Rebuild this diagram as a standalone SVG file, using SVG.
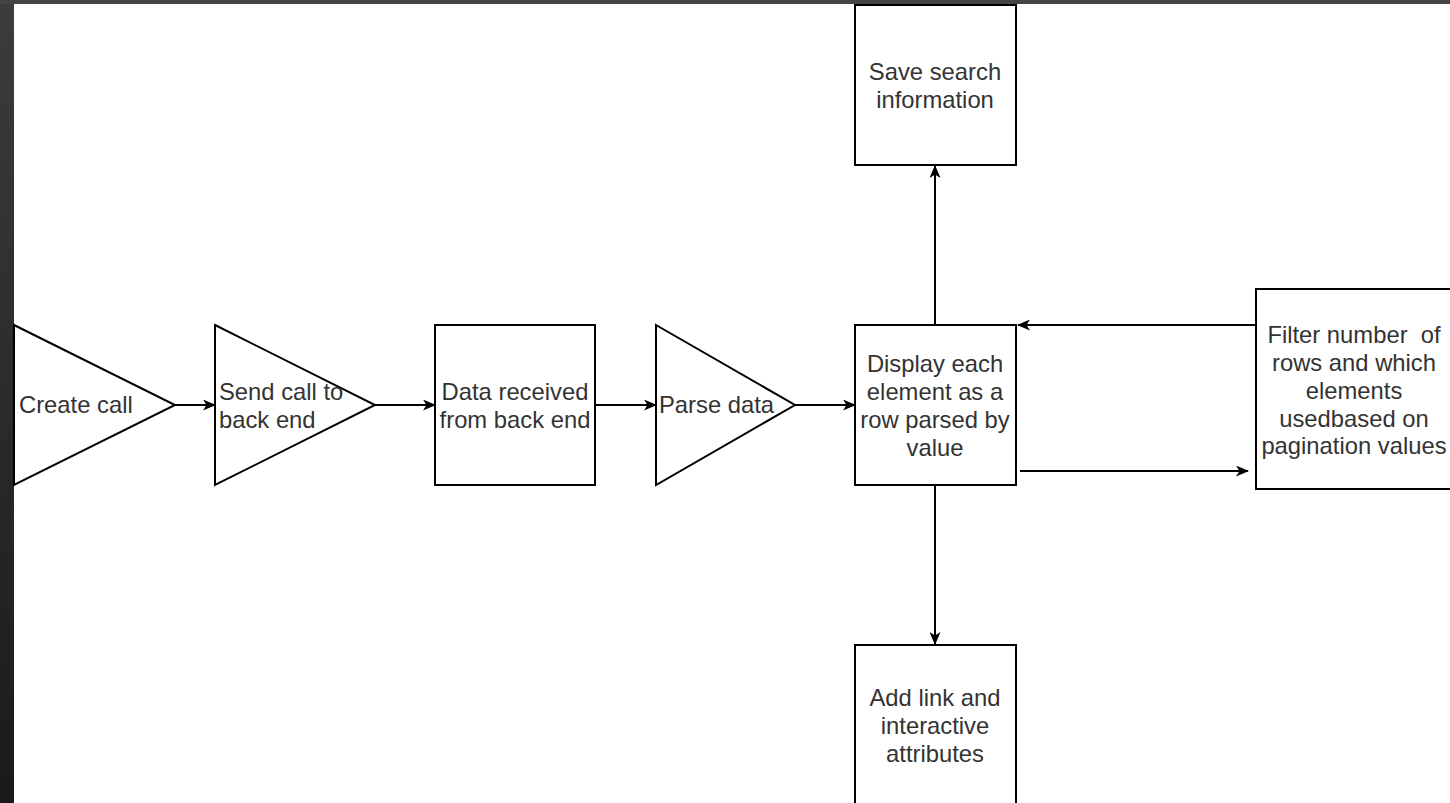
<svg xmlns="http://www.w3.org/2000/svg" width="1450" height="803" viewBox="0 0 1450 803">
<defs>
<linearGradient id="lb" x1="0" y1="0" x2="0" y2="1">
<stop offset="0" stop-color="#3c3c3c"/>
<stop offset="1" stop-color="#1a1a1a"/>
</linearGradient>
<marker id="ah" viewBox="0 0 13 11" refX="12" refY="5.5" markerWidth="13" markerHeight="11" markerUnits="userSpaceOnUse" orient="auto">
<path d="M0,0 L13,5.5 L0,11 L3.5,5.5 Z" fill="#000"/>
</marker>
<style>
.s{fill:#fff;stroke:#000;stroke-width:2}
.t{font-family:"Liberation Sans",Arial,sans-serif;font-size:23.8px;fill:#333}
.c{text-anchor:middle}
.e{fill:none;stroke:#000;stroke-width:2;marker-end:url(#ah)}
</style>
</defs>
<rect x="0" y="0" width="1450" height="803" fill="#fff"/>
<rect x="0" y="0" width="14" height="803" fill="url(#lb)"/>
<rect x="0" y="0" width="1450" height="4" fill="#444"/>
<g id="connectors">
<line class="e" x1="175" y1="405" x2="215" y2="405"/>
<line class="e" x1="375" y1="405" x2="435" y2="405"/>
<line class="e" x1="595" y1="405" x2="656" y2="405"/>
<line class="e" x1="795" y1="405" x2="855" y2="405"/>
<line class="e" x1="935" y1="325" x2="935" y2="166"/>
<line class="e" x1="935" y1="485" x2="935" y2="644"/>
<line class="e" x1="1256" y1="325" x2="1018" y2="325"/>
<line class="e" x1="1020" y1="471" x2="1248" y2="471"/>
</g>
<g id="create-call">
<polygon class="s" points="14,325 175,405 14,485"/>
<text class="t" x="19" y="413">Create call</text>
</g>
<g id="send-call">
<polygon class="s" points="215,325 375,405 215,485"/>
<text class="t" x="219" y="400">Send call to</text>
<text class="t" x="219" y="428">back end</text>
</g>
<g id="data-received">
<rect class="s" x="435" y="325" width="160" height="160"/>
<text class="t c" x="515" y="400">Data received</text>
<text class="t c" x="515" y="428">from back end</text>
</g>
<g id="parse-data">
<polygon class="s" points="656,325 795,405 656,485"/>
<text class="t" x="659" y="413">Parse data</text>
</g>
<g id="display">
<rect class="s" x="855" y="325" width="161" height="160"/>
<text class="t c" x="935" y="372">Display each</text>
<text class="t c" x="935" y="400">element as a</text>
<text class="t c" x="935" y="428">row parsed by</text>
<text class="t c" x="935" y="456">value</text>
</g>
<g id="save-search">
<rect class="s" x="855" y="5" width="161" height="160"/>
<text class="t c" x="935" y="80">Save search</text>
<text class="t c" x="935" y="108">information</text>
</g>
<g id="add-link">
<rect class="s" x="855" y="645" width="161" height="170"/>
<text class="t c" x="935" y="706">Add link and</text>
<text class="t c" x="935" y="734">interactive</text>
<text class="t c" x="935" y="762">attributes</text>
</g>
<g id="filter">
<rect class="s" x="1256" y="289" width="200" height="200"/>
<text class="t c" x="1354" y="343" xml:space="preserve">Filter number  of</text>
<text class="t c" x="1354" y="371">rows and which</text>
<text class="t c" x="1354" y="399">elements</text>
<text class="t c" x="1354" y="427">usedbased on</text>
<text class="t c" x="1354" y="454">pagination values</text>
</g>
</svg>
